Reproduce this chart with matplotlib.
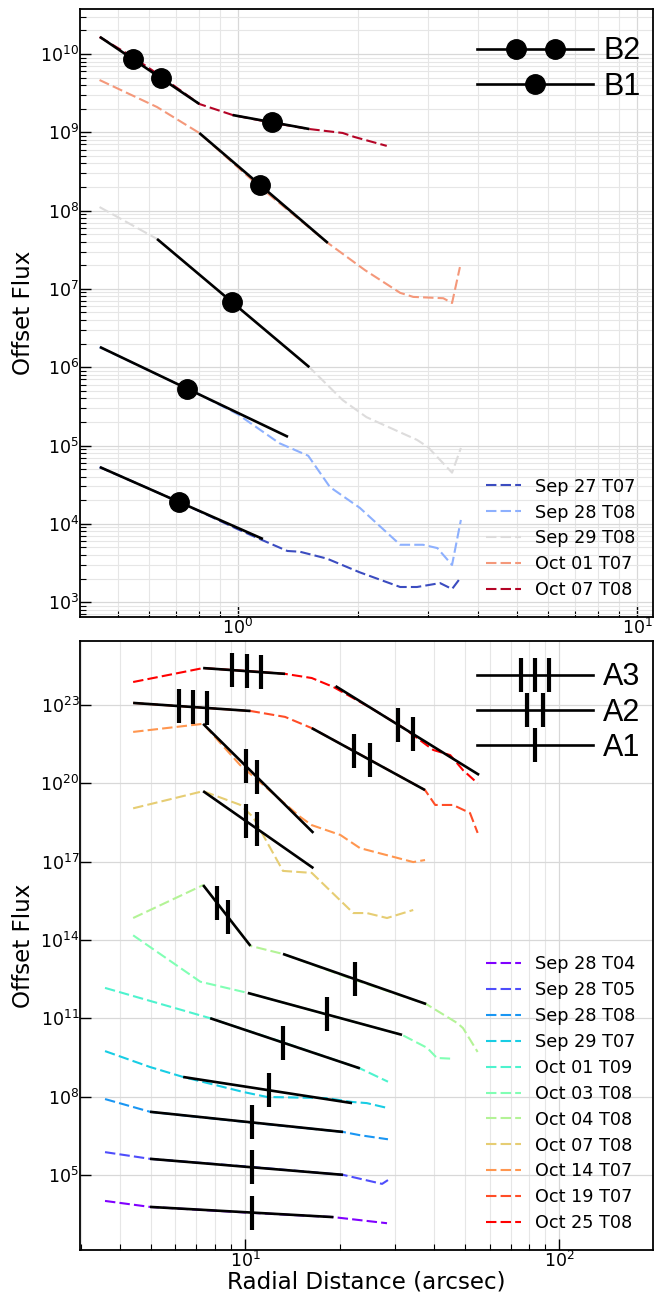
import numpy as np
import matplotlib
matplotlib.use("Agg")
import matplotlib.pyplot as plt
from matplotlib.lines import Line2D
from matplotlib.legend_handler import HandlerBase
from matplotlib.ticker import LogLocator, FixedLocator, NullLocator

# ---------------- panel (a): B profiles ----------------
TOP_LABELS = ["Sep 27 T07", "Sep 28 T08", "Sep 29 T08", "Oct 01 T07", "Oct 07 T08"]

SEP27_T07_R = [0.45, 0.60, 0.80, 1.0, 1.15, 1.33, 1.43, 1.67, 2.02, 2.55, 2.81, 3.21, 3.44, 3.6]
SEP27_T07_F = [5.3e4, 2.8e4, 1.45e4, 8.5e3, 6.2e3, 4.5e3, 4.4e3, 3.6e3, 2.4e3, 1.56e3, 1.56e3, 1.75e3, 1.47e3, 2.0e3]
SEP28_T08_R = [0.45, 0.60, 0.80, 1.0, 1.27, 1.5, 1.70, 2.02, 2.55, 2.91, 3.16, 3.44, 3.62]
SEP28_T08_F = [1.81e6, 9.0e5, 4.5e5, 2.5e5, 1.07e5, 7.4e4, 2.95e4, 1.6e4, 5.4e3, 5.4e3, 4.9e3, 2.98e3, 1.12e4]
SEP29_T08_R = [0.45, 0.627, 0.80, 0.966, 1.2, 1.51, 1.83, 2.1, 2.81, 2.99, 3.44, 3.62]
SEP29_T08_F = [1.11e8, 4.34e7, 1.52e7, 6.8e6, 2.7e6, 1.0e6, 3.8e5, 2.3e5, 1.18e5, 9.6e4, 4.5e4, 9.3e4]
OCT01_T07_R = [0.45, 0.627, 0.80, 1.135, 1.68, 2.08, 2.55, 2.75, 3.27, 3.44, 3.6]
OCT01_T07_F = [4.65e9, 2.1e9, 9.8e8, 2.0e8, 3.86e7, 1.74e7, 8.9e6, 7.9e6, 7.6e6, 6.6e6, 1.9e7]
OCT07_T08_R = [0.45, 0.546, 0.641, 0.80, 0.97, 1.22, 1.51, 1.83, 1.96, 2.36]
OCT07_T08_F = [1.65e10, 9.1e9, 5.2e9, 2.3e9, 1.66e9, 1.32e9, 1.1e9, 9.8e8, 8.7e8, 6.7e8]

# power-law fits (start radius, end radius, start flux, end flux, marker radii)
B2_R0, B2_R1, B2_F0, B2_F1 = [0.451], [0.80], [1.65e10], [2.3e9]
B2_MARKS = [[0.546, 0.641]]
B1_R0 = [0.97, 0.80, 0.627, 0.451, 0.451]
B1_R1 = [1.51, 1.68, 1.51, 1.335, 1.155]
B1_F0 = [1.66e9, 9.8e8, 4.34e7, 1.81e6, 5.3e4]
B1_F1 = [1.1e9, 3.86e7, 1.0e6, 1.29e5, 6.4e3]
B1_MARKS = [[1.22], [1.135], [0.966], [0.745], [0.711]]

# ---------------- panel (b): A profiles ----------------
BOT_LABELS = ["Sep 28 T04", "Sep 28 T05", "Sep 28 T08", "Sep 29 T07", "Oct 01 T09",
              "Oct 03 T08", "Oct 04 T08", "Oct 07 T08", "Oct 14 T07", "Oct 19 T07", "Oct 25 T08"]

SEP28_T04_R = [3.58, 4.98, 10.5, 19.1, 28.3]
SEP28_T04_F = [1.0e4, 5.9e3, 3.5e3, 2.4e3, 1.4e3]
SEP28_T05_R = [3.58, 4.98, 10.5, 20.5, 27.3, 28.5]
SEP28_T05_F = [7.4e5, 4.1e5, 2.0e5, 1.0e5, 4.5e4, 6.3e4]
SEP28_T08B_R = [3.58, 4.98, 10.5, 20.5, 23.2, 28.5]
SEP28_T08B_F = [8.0e7, 2.6e7, 1.0e7, 4.4e6, 3.3e6, 2.3e6]
SEP29_T07_R = [3.58, 4.98, 6.35, 9.85, 11.75, 18.2, 21.9, 24.4, 28.5]
SEP29_T07_F = [5.5e9, 1.35e9, 5.6e8, 1.5e8, 9.6e7, 8.7e7, 6.2e7, 5.6e7, 3.6e7]
OCT01_T09_R = [3.58, 7.74, 13.2, 23.2, 28.5]
OCT01_T09_F = [1.45e12, 1.0e11, 1.2e10, 1.2e9, 3.7e8]
OCT03_T08_R = [4.4, 7.2, 10.2, 18.2, 31.6, 38.0, 40.8, 45.9]
OCT03_T08_F = [1.5e14, 2.5e12, 9.3e11, 1.4e11, 2.3e10, 7.3e9, 3.0e9, 2.8e9]
OCT04_T08_R = [4.4, 7.35, 10.4, 13.2, 22.4, 37.7, 47.3, 49.4, 55.0]
OCT04_T08_F = [6.9e14, 1.26e16, 5.9e13, 2.9e13, 2.9e12, 3.5e11, 6.6e10, 4.2e10, 5.1e9]
OCT07_T08B_R = [4.4, 7.35, 9.64, 10.6, 13.2, 16.3, 22.1, 24.4, 28.3, 34.3]
OCT07_T08B_F = [1.1e19, 5.0e19, 1.5e19, 5.1e18, 4.4e16, 3.7e16, 1.07e15, 1.07e15, 6.9e14, 1.4e15]
OCT14_T07_R = [4.4, 7.35, 9.64, 15.0, 16.3, 20.1, 23.2, 34.3, 37.4]
OCT14_T07_F = [9.3e21, 1.9e22, 5.0e20, 5.1e18, 2.5e18, 1.05e18, 3.3e17, 9.6e16, 1.15e17]
OCT19_T07_R = [4.4, 10.4, 13.4, 16.3, 25.0, 37.4, 40.3, 45.9, 52.0, 55.0]
OCT19_T07_F = [1.2e23, 5.9e22, 3.5e22, 1.3e22, 7.9e20, 5.5e19, 1.48e19, 1.48e19, 7.3e18, 1.26e18]
OCT25_T08_R = [4.4, 7.35, 10.2, 13.4, 16.3, 19.1, 25.0, 32.0, 39.7, 45.0, 49.4, 55.0]
OCT25_T08_F = [7.6e23, 2.6e24, 2.0e24, 1.56e24, 1.08e24, 4.9e23, 8.0e22, 1.3e22, 1.9e21, 1.2e21, 3.2e20, 1.0e20]

A3_R0, A3_R1 = [7.35, 4.4], [13.4, 10.4]
A3_F0, A3_F1 = [2.6e24, 1.2e23], [1.56e24, 5.9e22]
A3_MARKS = [[9.1, 10.15, 11.2], [6.17, 6.83, 7.57]]
A2_R0 = [19.4, 16.3, 7.35, 7.35, 7.35]
A2_R1 = [55.6, 37.4, 16.5, 16.5, 10.4]
A2_F0 = [5.3e23, 1.3e22, 1.9e22, 5.0e19, 1.26e16]
A2_F1 = [2.1e20, 5.5e19, 1.26e18, 5.6e16, 5.9e13]
A2_MARKS = [[30.7, 34.3], [22.2, 25.0], [10.07, 10.9], [10.07, 10.9], [8.15, 8.83]]
A1_R0 = [13.2, 10.2, 7.74, 6.35, 4.98, 4.98, 4.98]
A1_R1 = [37.7, 31.6, 23.2, 21.9, 20.5, 20.5, 19.1]
A1_F0 = [2.9e13, 9.3e11, 1.0e11, 5.6e8, 2.6e7, 4.1e5, 5.9e3]
A1_F1 = [3.5e11, 2.3e10, 1.2e9, 5.6e7, 4.4e6, 1.0e5, 2.4e3]
A1_MARKS = [[22.4], [18.2], [13.2], [11.9], [10.5], [10.5], [10.5]]

BOT_YTICK_EXP = [5, 8, 11, 14, 17, 20, 23]

DASH = (5, 2)


class FitHandler(HandlerBase):
    """Legend key: a black line with markers at given fractions of its length."""

    def __init__(self, fracs, marker, ms, mew):
        super().__init__()
        self.fracs, self.marker, self.ms, self.mew = fracs, marker, ms, mew

    def create_artists(self, legend, orig_handle, xdescent, ydescent, width, height, fontsize, trans):
        y = height / 2 - ydescent
        x0 = -xdescent
        line = Line2D([x0, x0 + width], [y, y], color="k", lw=1.9)
        pts = Line2D([x0 + f * width for f in self.fracs], [y] * len(self.fracs), ls="none",
                     marker=self.marker, ms=self.ms, mew=self.mew, color="k")
        line.set_transform(trans)
        pts.set_transform(trans)
        return [line, pts]


def draw_fits(ax, r0, r1, f0, f1, marks, marker, ms, mew):
    for a, b, fa, fb, m in zip(r0, r1, f0, f1, marks):
        ax.plot([a, b], [fa, fb], color="k", lw=1.9, zorder=3, solid_capstyle="butt")
        fm = 10 ** np.interp(np.log10(m), np.log10([a, b]), np.log10([fa, fb]))
        ax.plot(m, fm, ls="none", marker=marker, ms=ms, mew=mew, color="k", zorder=4)


def style(ax):
    ax.set_xscale("log")
    ax.set_yscale("log")
    ax.set_axisbelow(True)
    ax.tick_params(which="both", direction="in", pad=0.5, labelsize=12.5)
    ax.tick_params(which="major", length=8, width=1)
    ax.tick_params(which="minor", length=4, width=0.8)
    for s in ax.spines.values():
        s.set_linewidth(1.3)
    ax.grid(True, which="major", color="#d8d8d8", lw=0.9)
    ax.grid(True, which="minor", color="#e6e6e6", lw=0.8)


def fit_legend(ax, keys, labels, handlers, anchor):
    ax.legend(keys, labels, loc="upper right", bbox_to_anchor=anchor, frameon=False,
              prop={"family": "Liberation Sans", "size": 22}, handlelength=3.8,
              handletextpad=0.35, labelspacing=0.17, borderaxespad=0,
              handler_map=dict(zip(keys, handlers)))


fig = plt.figure(figsize=(6.65, 12.94), dpi=100)
ax1 = fig.add_axes([0.1203, 0.5232, 0.8617, 0.4699])
ax2 = fig.add_axes([0.1203, 0.0340, 0.8617, 0.4706])

# ---- (a) ----
style(ax1)
top_r = [SEP27_T07_R, SEP28_T08_R, SEP29_T08_R, OCT01_T07_R, OCT07_T08_R]
top_f = [SEP27_T07_F, SEP28_T08_F, SEP29_T08_F, OCT01_T07_F, OCT07_T08_F]
top_cols = plt.cm.coolwarm(np.linspace(0, 1, len(TOP_LABELS)))
date_handles = []
for r, f, c, lab in zip(top_r, top_f, top_cols, TOP_LABELS):
    h, = ax1.plot(r, f, color=c, lw=1.5, ls="--", dashes=DASH, label=lab, zorder=2)
    date_handles.append(h)
draw_fits(ax1, B2_R0, B2_R1, B2_F0, B2_F1, B2_MARKS, "o", 14, 1)
draw_fits(ax1, B1_R0, B1_R1, B1_F0, B1_F1, B1_MARKS, "o", 14, 1)
ax1.set_xlim(0.402, 10.97)
ax1.set_ylim(646, 3.76e10)
ax1.yaxis.set_major_locator(LogLocator(base=10, numticks=20))
ax1.yaxis.set_minor_locator(LogLocator(base=10, subs=np.arange(2, 10), numticks=20))
ax1.set_ylabel("Offset Flux", fontsize=16.6)

leg_dates = ax1.legend(handles=date_handles, loc="lower right", frameon=False, fontsize=12.7,
                       handlelength=2.0, labelspacing=0.45, borderaxespad=0.6)
ax1.add_artist(leg_dates)
kb2, kb1 = Line2D([], []), Line2D([], [])
fit_legend(ax1, [kb2, kb1], ["B2", "B1"],
           [FitHandler([0.337, 0.674], "o", 14, 1), FitHandler([0.503], "o", 14, 1)],
           (1.0, 0.975))

# ---- (b) ----
style(ax2)
bot_r = [SEP28_T04_R, SEP28_T05_R, SEP28_T08B_R, SEP29_T07_R, OCT01_T09_R, OCT03_T08_R,
         OCT04_T08_R, OCT07_T08B_R, OCT14_T07_R, OCT19_T07_R, OCT25_T08_R]
bot_f = [SEP28_T04_F, SEP28_T05_F, SEP28_T08B_F, SEP29_T07_F, OCT01_T09_F, OCT03_T08_F,
         OCT04_T08_F, OCT07_T08B_F, OCT14_T07_F, OCT19_T07_F, OCT25_T08_F]
bot_cols = plt.cm.rainbow(np.linspace(0, 1, len(BOT_LABELS)))
date_handles = []
for r, f, c, lab in zip(bot_r, bot_f, bot_cols, BOT_LABELS):
    h, = ax2.plot(r, f, color=c, lw=1.5, ls="--", dashes=DASH, label=lab, zorder=2)
    date_handles.append(h)
draw_fits(ax2, A3_R0, A3_R1, A3_F0, A3_F1, A3_MARKS, "|", 25, 3)
draw_fits(ax2, A2_R0, A2_R1, A2_F0, A2_F1, A2_MARKS, "|", 25, 3)
draw_fits(ax2, A1_R0, A1_R1, A1_F0, A1_F1, A1_MARKS, "|", 25, 3)
ax2.set_xlim(2.98, 199)
ax2.set_ylim(10 ** 2.12, 10 ** 25.45)
ax2.yaxis.set_major_locator(FixedLocator([10.0 ** e for e in BOT_YTICK_EXP]))
ax2.yaxis.set_minor_locator(NullLocator())
ax2.set_ylabel("Offset Flux", fontsize=16.6)
ax2.set_xlabel("Radial Distance (arcsec)", fontsize=16.6, labelpad=0)

leg_dates = ax2.legend(handles=date_handles, loc="lower right", frameon=False, fontsize=12.7,
                       handlelength=2.0, labelspacing=0.45, borderaxespad=0.6)
ax2.add_artist(leg_dates)
ka3, ka2, ka1 = Line2D([], []), Line2D([], []), Line2D([], [])
fit_legend(ax2, [ka3, ka2, ka1], ["A3", "A2", "A1"],
           [FitHandler([0.38, 0.503, 0.623], "|", 25, 3),
            FitHandler([0.437, 0.571], "|", 25, 3),
            FitHandler([0.503], "|", 25, 3)],
           (1.0, 0.985))

fig.savefig("out.png", dpi=100)
